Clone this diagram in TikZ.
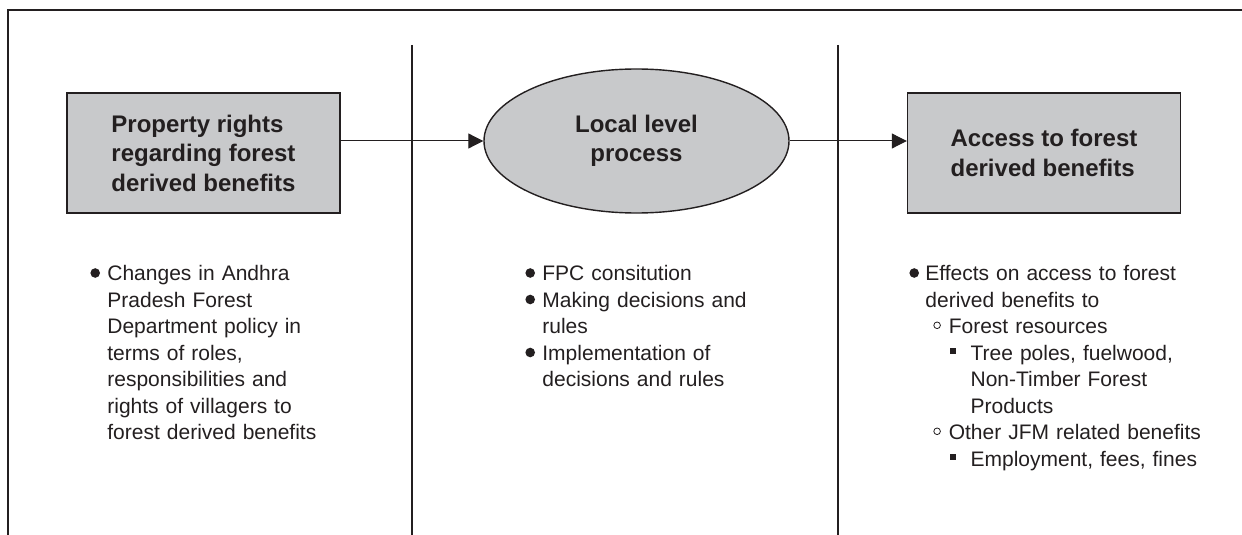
\documentclass[tikz,border=0pt]{standalone}
\usepackage{fontspec}
\setmainfont{Liberation Sans}
\usepackage{xcolor}
\usetikzlibrary{positioning,shapes.geometric,arrows.meta}

\definecolor{boxgray}{HTML}{C8C9CB}
\definecolor{inkdark}{HTML}{231F20}

% list markers
\newcommand{\dotmark}{\tikz[baseline=0pt]\fill[inkdark] (2.4pt,3.75pt) circle[radius=2.4pt];}
\newcommand{\ringmark}{\tikz[baseline=0pt]\draw[inkdark,line width=0.4pt] (1.85pt,4.1pt) circle[radius=1.65pt];}
\newcommand{\boxmark}{\tikz[baseline=0pt]\fill[inkdark] (0pt,2.9pt) rectangle (3.2pt,6.1pt);}
% one list entry: marker position, text position, marker, text
\newcommand{\pitem}[4]{\par\leftskip=#2\noindent\llap{\makebox[\dimexpr#2-#1\relax][l]{#3}}#4}

\begin{document}
\begin{tikzpicture}[
  x=0.5pt, y=-0.5pt,
  every node/.style={text=inkdark},
  titlebox/.style={draw=inkdark,line width=0.7pt,fill=boxgray,minimum width=136.5pt,minimum height=60pt,
    font=\fontsize{12}{14.75}\selectfont\bfseries,align=left},
  procnode/.style={draw=inkdark,line width=0.7pt,fill=boxgray,ellipse,inner sep=0pt,
    minimum width=152.5pt,minimum height=72pt,font=\fontsize{12}{14.75}\selectfont\bfseries,align=center},
  listnode/.style={anchor=base west,inner sep=0pt,text width=200pt,align=left,
    font=\fontsize{10.5}{13.25}\selectfont},
  frameline/.style={draw=inkdark,line width=0.8pt},
  arr/.style={draw=inkdark,line width=0.5pt,-{Triangle[length=7.5pt,width=7.5pt]}}
    ]
\useasboundingbox (0,0) rectangle (1242,535);

% frame and column dividers
\draw[frameline,line join=miter] (8,535) -- (8,10) -- (1242,10);
\draw[frameline] (412,45) -- (412,535);
\draw[frameline] (838,45) -- (838,535);

\node[titlebox] (lbox) at (203.5,153) {Property rights\\regarding forest\\derived benefits};
\node[procnode] (proc) at (636.5,141) {Local level\\process};
\node[titlebox] (rbox) at (1044,153) {Access to forest\\derived benefits};

\path (lbox.east |- proc.west) edge[arr] (proc.west)
(proc.east) edge[arr] (rbox.west |- proc.east);

\node[listnode] (llist) at (90,254) {%
  \pitem{0pt}{8.5pt}{\dotmark}{Changes in Andhra\newline Pradesh Forest\newline Department policy in\newline
  terms of roles,\newline responsibilities and\newline rights of villagers to\newline forest derived benefits}\par};
\node[listnode] (mlist) at (525,254) {%
  \pitem{0pt}{8.5pt}{\dotmark}{FPC consitution}
  \pitem{0pt}{8.5pt}{\dotmark}{Making decisions and\newline rules}
  \pitem{0pt}{8.5pt}{\dotmark}{Implementation of\newline decisions and rules}\par};
\node[listnode] (rlist) at (909,254) {%
  \pitem{0pt}{8pt}{\dotmark}{Effects on access to forest\newline derived benefits to}
  \pitem{12pt}{19.7pt}{\ringmark}{Forest resources}
  \pitem{20.2pt}{30.6pt}{\boxmark}{Tree poles, fuelwood,\newline Non-Timber Forest\newline Products}
  \pitem{12pt}{19.7pt}{\ringmark}{Other JFM related benefits}
  \pitem{20.2pt}{30.6pt}{\boxmark}{Employment, fees, fines}\par};
\end{tikzpicture}
\end{document}
